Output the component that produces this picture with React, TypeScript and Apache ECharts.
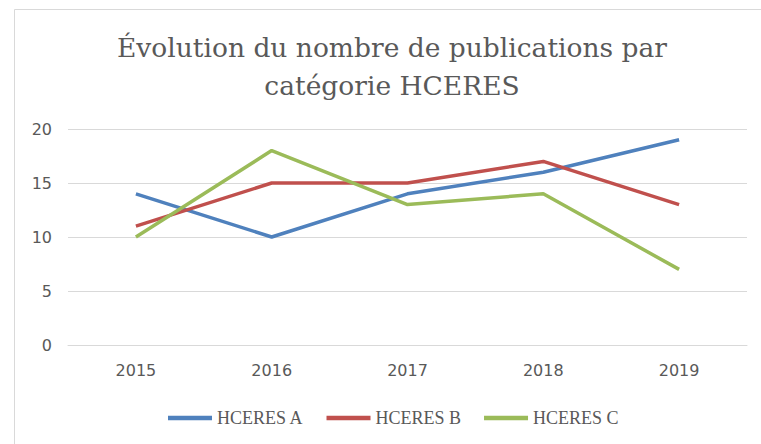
import React, { useEffect, useRef } from "react";
import * as echarts from "echarts";

const years = ["2015", "2016", "2017", "2018", "2019"];
const hceresA = [14, 10, 14, 16, 19];
const hceresB = [11, 15, 15, 17, 13];
const hceresC = [10, 18, 13, 14, 7];
const seriesNames = ["HCERES A", "HCERES B", "HCERES C"];
const colors = ["#4F81BD", "#C0504D", "#9BBB59"];

export default function App() {
  const ref = useRef<HTMLDivElement>(null);
  useEffect(() => {
    if (!ref.current) return;
    const chart = echarts.init(ref.current, undefined, { renderer: "svg" });
    const data = [hceresA, hceresB, hceresC];
    chart.setOption({
      animation: false,
      backgroundColor: "#ffffff",
      graphic: [
        {
          type: "rect",
          shape: { x: 14.5, y: 9.5, width: 800, height: 500 },
          style: { fill: "none", stroke: "#D9D9D9", lineWidth: 1 },
          silent: true,
        },
        {
          type: "text",
          x: 392,
          y: 28,
          style: {
            text: "Évolution du nombre de publications par\ncatégorie HCERES",
            fill: "#595959",
            font: "26.5px 'DejaVu Serif'",
            align: "center",
            verticalAlign: "top",
            lineHeight: 38,
          },
        },
      ],
      grid: { left: 68, right: 14, top: 129, bottom: 99, containLabel: false },
      legend: {
        left: 163,
        top: 404,
        itemWidth: 44,
        itemHeight: 4.5,
        itemGap: 23,
        icon: "rect",
        data: seriesNames,
        textStyle: { fontFamily: "Liberation Serif", fontSize: 18, color: "#595959" },
      },
      xAxis: {
        type: "category",
        data: years,
        boundaryGap: true,
        axisLine: { show: true, lineStyle: { color: "#D9D9D9" } },
        axisTick: { show: false },
        axisLabel: { color: "#595959", fontFamily: "DejaVu Sans", fontSize: 16, margin: 17 },
      },
      yAxis: {
        type: "value",
        min: 0,
        max: 20,
        interval: 5,
        axisLine: { show: false },
        axisTick: { show: false },
        splitLine: { lineStyle: { color: "#D9D9D9", width: 1 } },
        axisLabel: { color: "#595959", fontFamily: "DejaVu Sans", fontSize: 16, margin: 16 },
      },
      series: seriesNames.map((name, i) => ({
        name,
        type: "line",
        data: data[i],
        showSymbol: false,
        symbol: "none",
        lineStyle: { color: colors[i], width: 3.5 },
        itemStyle: { color: colors[i] },
      })),
    });
    return () => chart.dispose();
  }, []);
  return <div ref={ref} style={{ width: 761, height: 444, position: "absolute", left: 0, top: 0 }} />;
}
